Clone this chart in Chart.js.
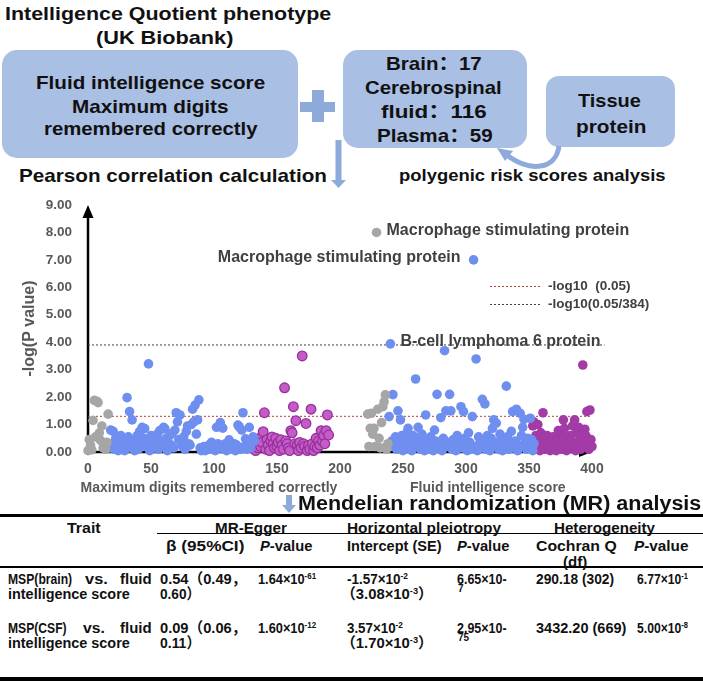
<!DOCTYPE html>
<html>
<head>
<meta charset="utf-8">
<script src="https://cdn.jsdelivr.net/npm/chart.js@4.4.1/dist/chart.umd.min.js"></script>
<style>
  body { margin: 0; width: 703px; height: 682px; position: relative; overflow: hidden; background: #fff;
         font-family: 'Liberation Sans', Arial, 'Noto Sans CJK SC', sans-serif; font-weight: bold; color: #111; }
  .t { position: absolute; white-space: nowrap; line-height: 1; transform-origin: 0 50%; }
  .t sup { font-size: 0.62em; vertical-align: 0.5em; line-height: 0; }
  .rule { position: absolute; background: #000; }
  #chart { position: absolute; left: 0; top: 190px; }
  svg { position: absolute; left: 0; top: 0; }
</style>
</head>
<body>
<svg width="703" height="682">
  <g fill="#a9bfe4">
    <rect x="2" y="50" width="296" height="108" rx="15"/>
    <rect x="343" y="50" width="184" height="98" rx="15"/>
    <rect x="546" y="76" width="129" height="71" rx="13"/>
  </g>
  <g fill="#8eaadb">
    <rect x="300" y="102" width="35" height="10"/>
    <rect x="312" y="90" width="12" height="32"/>
    <rect x="335.5" y="140" width="6" height="41"/>
    <polygon points="331,180 346,180 338.5,188"/>
    <rect x="286" y="495" width="6" height="11"/>
    <polygon points="282,505 296,505 289,513"/>
    <polygon points="497,148 513,151 505,161"/>
  </g>
  <path d="M559,146 C556,170 530,172 508,156" fill="none" stroke="#8eaadb" stroke-width="5"/>
</svg>
<canvas id="chart" width="703" height="310"></canvas>
<script>
// ---- chart data: -log10(P) per protein, in plotted order ----
const groupNames = ['Maximum digits remembered correctly', 'Fluid intelligence score'];
const xTickMax = 400;
const yTickMax = 9;
const thresholdP05 = 1.3;    // -log10(0.05)
const thresholdBonf = 3.9;   // -log10(0.05/384)
const thresholdLabels = ['-log10  (0.05)', '-log10(0.05/384)'];

// Maximum digits remembered correctly
const brainDigits = [0.05, 0.45, 0.25, 0.08, 1.15, 1.88, 0.55, 1.85, 1.8, 0.7, 0.42, 0.95, 0.15, 0.3, 0.1, 0.35, 1.38];
const csfDigits = [
  0.15, 0.8, 0.3, 0.75, 0.1, 0.5, 0.2, 0.05, 0.35,
  0.6, 0.2, 0.45, 0.05, 0.3, 1.98, 0.55, 1.47, 0.15, 1.17,
  0.4, 0.05, 0.25, 0.6, 0.1, 0.75, 0.35, 0.9, 0.5, 0.85,
  0.2, 0.45, 3.21, 0.05, 0.6, 0.3, 0.15, 0.55, 0.35, 0.65,
  0.1, 0.78, 0.4, 0.2, 0.9, 0.85, 0.5, 0.05, 0.3, 0.6,
  0.25, 0.69, 0.15, 0.8, 1.43, 1.1, 0.45, 1.35, 0.35, 0.2,
  0.55, 0.1, 0.75, 0.95, 0.3, 0.25, 1.0, 1.56, 1.1, 1.71,
  0.65, 1.17, 1.9, 0.15, 0.05, 0.1, 0.2, 0.05, 0.15, 0.1,
  0.25, 0.1, 0.35, 0.15, 0.2, 0.05, 0.9, 0.3, 0.15, 1.07,
  0.2, 0.87, 0.1, 0.3, 0.05, 0.25, 0.44, 0.15, 0.2, 0.1,
  0.3, 0.05, 0.25, 0.98, 0.92, 0.1, 0.8, 1.43, 0.2, 0.48,
  0.1, 0.3, 0.9, 0.15, 0.35, 0.55, 0.4
];
const plasmaDigits = [
  0.05, 0.3, 0.15, 0.5, 0.2, 0.35, 0.74, 1.43, 0.1, 0.45,
  0.25, 0.05, 0.4, 0.55, 0.3, 0.15, 0.5, 0.2, 0.35, 0.05,
  0.45, 0.25, 0.1, 2.34, 0.4, 0.3, 0.15, 0.05, 0.78, 0.7,
  1.65, 0.3, 1.14, 0.25, 0.05, 0.35, 0.15, 3.5, 0.3, 0.2,
  1.04, 0.05, 0.25, 0.1, 1.56, 0.3, 0.05, 0.2, 0.5, 0.15,
  0.4, 0.25, 0.78, 0.4, 0.6, 0.3, 0.78, 1.35, 0.62
];
// Fluid intelligence score
const brainFluid = [1.38, 0.2, 0.86, 1.41, 0.65, 0.86, 0.2, 8.0, 1.56, 0.5, 0.15, 1.07, 1.65, 1.83, 2.08, 0.1, 0.3];
const csfFluid = [
  1.29, 3.94, 0.4, 2.09, 0.2, 0.55, 0.1, 1.5, 0.3, 1.17,
  0.6, 0.05, 0.45, 0.25, 0.7, 0.86, 0.15, 0.4, 0.05, 0.6,
  0.3, 2.66, 0.2, 0.9, 0.5, 0.1, 0.65, 0.35, 0.05, 1.35,
  0.45, 0.2, 0.1, 0.55, 0.3, 0.05, 0.8, 0.4, 2.1, 0.15,
  0.25, 1.25, 0.05, 0.5, 3.69, 1.5, 0.2, 0.35, 2.1, 1.5,
  0.1, 0.45, 0.3, 0.05, 0.6, 0.2, 0.4, 1.65, 0.15, 1.47,
  0.5, 0.25, 0.05, 0.7, 0.35, 0.1, 1.29, 7.0, 0.2, 3.39,
  0.05, 0.55, 0.3, 0.15, 1.92, 0.4, 1.75, 0.1, 0.6, 0.25,
  0.05, 0.5, 0.86, 1.17, 0.2, 1.05, 0.35, 0.1, 0.65, 0.3,
  0.05, 0.45, 0.2, 2.4, 0.55, 0.1, 0.3, 0.75, 1.47, 0.15,
  0.4, 1.56, 0.05, 0.25, 1.41, 0.6, 0.9, 1.19, 0.35, 0.1,
  0.5, 0.2, 1.23, 0.45, 0.05, 0.3
];
const plasmaFluid = [
  0.95, 1.1, 0.3, 0.6, 0.15, 1.0, 0.45, 0.05, 0.7, 0.25,
  1.43, 0.5, 0.1, 0.35, 0.6, 0.2, 0.5, 0.05, 0.4, 0.25,
  0.55, 0.15, 0.3, 0.05, 0.45, 0.78, 0.2, 0.35, 0.1, 0.68,
  1.17, 0.86, 0.25, 0.05, 0.5, 0.3, 0.15, 0.6, 0.4, 0.95,
  0.2, 1.17, 0.05, 0.7, 0.35, 0.9, 0.45, 0.1, 0.55, 3.17,
  0.25, 0.83, 0.6, 1.47, 0.3, 0.1, 1.53, 0.45, 0.2
];
// first protein position on the x axis, and spacing, for each block
const blockStart = [0, 17, 133, 222, 239, 353];
const blockStep = [1, 1, 1, 1, 1, 0.81];
// labelled proteins: [block, index in block, text, side]
const highlights = [
  [3, 7, 'Macrophage stimulating protein', 'right'],
  [4, 67, 'Macrophage stimulating protein', 'left'],
  [4, 1, 'B-cell lymphoma 6 protein', 'right']
];

const blocks = [brainDigits, csfDigits, plasmaDigits, brainFluid, csfFluid, plasmaFluid];
const toPoints = (ys, b) => ys.map((v, i) => ({ x: blockStart[b] + i * blockStep[b], y: v }));

const GRAY = '#a6a6a6', BLUE = '#6f8ff0', PURPLE = '#a23ba6';
const pointStyle = [
  { backgroundColor: GRAY, borderWidth: 0 },
  { backgroundColor: BLUE, borderWidth: 0 },
  { backgroundColor: '#c45cc8', borderColor: '#98309c', borderWidth: 1.3 },
  { backgroundColor: GRAY, borderWidth: 0 },
  { backgroundColor: BLUE, borderWidth: 0 },
  { backgroundColor: PURPLE, borderWidth: 0 }
];

const datasets = blocks.map((ys, b) => Object.assign({
  data: toPoints(ys, b), pointRadius: 4.8, pointHoverRadius: 4.8, clip: false, order: 1
}, pointStyle[b]));
datasets.push({
  data: [{ x: 0, y: thresholdP05 }, { x: xTickMax, y: thresholdP05 }],
  showLine: true, borderColor: '#b0453a', borderWidth: 1, borderDash: [2, 2], pointRadius: 0, clip: false, order: 5
});
datasets.push({
  data: [{ x: 0, y: thresholdBonf }, { x: 410, y: thresholdBonf }],
  showLine: true, borderColor: '#404040', borderWidth: 1, borderDash: [2, 2], pointRadius: 0, clip: false, order: 5
});

const FONT = "'Liberation Sans', Arial, sans-serif";

const decor = {
  id: 'decor',
  beforeDatasetsDraw(chart) {
    const { ctx, scales: { x, y } } = chart;
    const x0 = x.getPixelForValue(0), y0 = y.getPixelForValue(0);
    const xEnd = x.getPixelForValue(xTickMax), yTop = y.getPixelForValue(yTickMax);
    ctx.save();
    ctx.strokeStyle = '#000';
    ctx.fillStyle = '#000';
    ctx.lineWidth = 2.5;
    ctx.beginPath();
    ctx.moveTo(x0, y0 + 1);
    ctx.lineTo(x0, yTop + 10);
    ctx.moveTo(x0 - 1, y0);
    ctx.lineTo(xEnd - 10, y0);
    ctx.stroke();
    ctx.beginPath();
    ctx.moveTo(x0, yTop);
    ctx.lineTo(x0 - 5.5, yTop + 13);
    ctx.lineTo(x0 + 5.5, yTop + 13);
    ctx.fill();
    ctx.beginPath();
    ctx.moveTo(xEnd, y0);
    ctx.lineTo(xEnd - 13, y0 - 5);
    ctx.lineTo(xEnd - 13, y0 + 5);
    ctx.fill();
    ctx.restore();
  },
  afterDatasetsDraw(chart) {
    const { ctx, chartArea: area, scales: { x } } = chart;
    ctx.save();
    // y axis title
    ctx.fillStyle = '#595959';
    ctx.font = 'bold 16px ' + FONT;
    ctx.textAlign = 'center';
    ctx.textBaseline = 'middle';
    ctx.translate(30, (area.top + area.bottom) / 2);
    ctx.rotate(-Math.PI / 2);
    ctx.fillText('-log(P value)', 0, 0);
    ctx.restore();

    ctx.save();
    // group names under the axis
    ctx.fillStyle = '#595959';
    ctx.font = 'bold 14px ' + FONT;
    ctx.textAlign = 'center';
    ctx.textBaseline = 'middle';
    ctx.fillText(groupNames[0], x.getPixelForValue((blockStart[0] + blockStart[2] + plasmaDigits.length) / 2), area.bottom + 36);
    ctx.fillText(groupNames[1], x.getPixelForValue((blockStart[3] + xTickMax) / 2) + 8, area.bottom + 36);

    // labelled proteins
    ctx.fillStyle = '#404040';
    ctx.font = 'bold 16px ' + FONT;
    highlights.forEach(([b, i, text, side]) => {
      const pt = chart.getDatasetMeta(b).data[i];
      if (side === 'right') {
        ctx.textAlign = 'left';
        ctx.fillText(text, pt.x + 10, pt.y - 2);
      } else {
        ctx.textAlign = 'right';
        ctx.fillText(text, pt.x - 13, pt.y - 2);
      }
    });

    // legend for the threshold lines
    const lx = area.right - 102;
    const rows = [[area.top + 81, '#b0453a'], [area.top + 99, '#404040']];
    ctx.font = 'bold 13.5px ' + FONT;
    ctx.textAlign = 'left';
    rows.forEach(([ly, col], k) => {
      ctx.save();
      ctx.strokeStyle = col;
      ctx.lineWidth = 1;
      ctx.setLineDash([2, 2]);
      ctx.beginPath();
      ctx.moveTo(lx, ly + 0.5);
      ctx.lineTo(lx + 52, ly + 0.5);
      ctx.stroke();
      ctx.restore();
      ctx.fillStyle = '#404040';
      ctx.fillText(thresholdLabels[k], lx + 58, ly);
    });
    ctx.restore();
  }
};

Chart.defaults.font.family = FONT;

new Chart(document.getElementById('chart'), {
  type: 'scatter',
  data: { datasets },
  options: {
    responsive: false,
    devicePixelRatio: 1,
    animation: false,
    events: [],
    layout: { padding: { left: 0, right: 111, top: 15, bottom: 0 } },
    plugins: { legend: { display: false }, tooltip: { enabled: false } },
    scales: {
      x: {
        type: 'linear', min: 0, max: xTickMax,
        grid: { display: false, drawTicks: false },
        border: { display: false },
        afterFit: s => { s.height = 48; s.paddingLeft = 0; s.paddingRight = 0; },
        ticks: { stepSize: 50, padding: 9, color: '#595959', font: { size: 14, weight: 'bold' }, autoSkip: false }
      },
      y: {
        type: 'linear', min: 0, max: yTickMax,
        grid: { display: false, drawTicks: false },
        border: { display: false },
        afterFit: s => { s.width = 88; s.paddingTop = 0; s.paddingBottom = 0; },
        ticks: { stepSize: 1, padding: 16, color: '#595959', font: { size: 13.5, weight: 'bold' },
                 callback: v => v.toFixed(2) }
      }
    }
  },
  plugins: [decor]
});

// ---- header and table text ----
function txt(html, x, cy, size, w, align, extra) {
  const d = document.createElement('div');
  d.className = 't';
  d.innerHTML = html;
  d.style.top = (cy - size / 2) + 'px';
  d.style.fontSize = size + 'px';
  if (extra) Object.assign(d.style, extra);
  document.body.appendChild(d);
  const natural = d.offsetWidth;
  const width = w || natural;
  if (w) d.style.transform = 'scaleX(' + (w / natural).toFixed(3) + ')';
  let left = x;
  if (align === 'c') left = x - width / 2;
  if (align === 'r') left = x - width;
  d.style.left = left + 'px';
  return d;
}
function rule(x, y, w, h) {
  const d = document.createElement('div');
  d.className = 'rule';
  Object.assign(d.style, { left: x + 'px', top: y + 'px', width: w + 'px', height: h + 'px' });
  document.body.appendChild(d);
}

const H = 19;
txt('Intelligence Quotient phenotype', 4.5, 13, H, 326);
txt('(UK Biobank)', 95.5, 37, H, 137);
txt('Fluid intelligence score', 36, 82, H, 229);
txt('Maximum digits', 72, 106, H, 157);
txt('remembered correctly', 43.5, 128, H, 214);
txt('Brain：17', 386, 63, H, 96);
txt('Cerebrospinal', 365, 87, H, 137);
txt('fluid：116', 381, 111, H, 106);
txt('Plasma：59', 377, 135, H, 116);
txt('Tissue', 578, 100, H, 63);
txt('protein', 576, 126, H, 70);
txt('Pearson correlation calculation', 19, 175, H, 308);
txt('polygenic risk scores analysis', 399, 175, 17, 267);
txt('Mendelian randomization (MR) analysis', 298, 503, 20, 404);

// table
const S = 15;
rule(0, 513.5, 703, 3.5);
rule(157, 533, 546, 1.2);
rule(0, 565.5, 703, 2);
rule(0, 677, 703, 3.5);

txt('Trait', 84, 527, S, 34, 'c');
txt('MR-Egger', 251, 527, S, 72, 'c');
txt('Horizontal pleiotropy', 424, 527, S, 154, 'c');
txt('Heterogeneity', 604, 527, S, 101, 'c');

txt('β (95%CI)', 166, 545, S, 78);
txt('<i>P</i>-value', 260, 545, S, 52);
txt('Intercept (SE)', 347, 545, S, 95);
txt('<i>P</i>-value', 457, 545, S, 52);
txt('Cochran Q', 576, 545, S, 81, 'c');
txt('(df)', 575, 561, S, 24, 'c');
txt('<i>P</i>-value', 634, 545, S, 54);

const r1 = 578, r1b = 593, r2 = 627, r2b = 642;
txt('MSP(brain)', 8, r1, S, 64);
txt('vs.', 85, r1, S, 23);
txt('fluid', 120, r1, S, 32);
txt('intelligence score', 8, r1b, S, 122);
txt('0.54（0.49，', 160, r1, S, 86);
txt('0.60）', 160, r1b, S, 40);
txt('1.64×10<sup>-61</sup>', 258, r1, S, 58);
txt('-1.57×10<sup>-2</sup>', 347, r1, S, 61);
txt('（3.08×10<sup>-3</sup>）', 341, r1b, S, 92);
txt('6.65×10-', 457, r1, S, 50);
txt('7', 458, r1b - 4, 10);
txt('290.18 (302)', 536, r1, S, 78);
txt('6.77×10<sup>-1</sup>', 637, r1, S, 51);

txt('MSP(CSF)', 8, r2, S, 59);
txt('vs.', 83, r2, S, 22);
txt('fluid', 120, r2, S, 32);
txt('intelligence score', 8, r2b, S, 122);
txt('0.09（0.06，', 160, r2, S, 86);
txt('0.11）', 160, r2b, S, 40);
txt('1.60×10<sup>-12</sup>', 258, r2, S, 58);
txt('3.57×10<sup>-2</sup>', 347, r2, S, 56);
txt('（1.70×10<sup>-3</sup>）', 341, r2b, S, 92);
txt('2.95×10-', 457, r2, S, 50);
txt('75', 458, r2b - 4, 10);
txt('3432.20 (669)', 536, r2, S, 90);
txt('5.00×10<sup>-8</sup>', 637, r2, S, 51);
</script>
</body>
</html>
